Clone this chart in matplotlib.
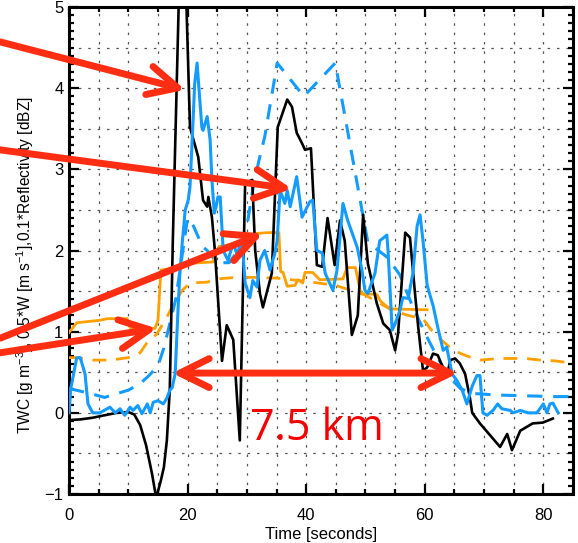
import matplotlib
matplotlib.use("Agg")
import matplotlib.pyplot as plt
from matplotlib.patches import FancyArrowPatch
from matplotlib.ticker import MultipleLocator

plt.rcParams['font.family'] = ['Liberation Sans', 'DejaVu Sans']
plt.rcParams['mathtext.default'] = 'regular'

# ---- flight-leg time series (time in seconds) ----
twc_t = [0, 2, 4, 6, 8, 10, 11, 12, 13, 14, 14.7, 15.5, 16, 16.5, 17, 17.5,
         19.1, 20.4, 21.8, 22.6, 23.3, 23.5, 24.1, 24.6, 25.8, 26.6, 27.7,
         28.8, 29.7, 30.9, 31.4, 32.2, 32.7, 34.2, 35.2, 36.8, 37.6, 38.4,
         39.3, 39.8, 40.8, 41.8, 42.7, 43.6, 44.8, 45.7, 46.5, 47.7, 48.7,
         49.6, 50.4, 51.9, 53.0, 54.1, 55.0, 55.5, 56.7, 57.5, 58.3, 58.9,
         59.7, 60.4, 61.4, 62.2, 63.7, 64.3, 65.1, 65.9, 66.8, 67.6, 68.0,
         69.3, 72.7, 73.9, 74.7, 76.1, 78.2, 79.9, 81.6]
twc_v = [-0.09, -0.08, -0.06, -0.03, 0.0, 0.01, -0.02, -0.15, -0.4, -0.75,
         -1.05, -0.83, -0.67, -0.34, 0.3, 2.1,
         6.8, 3.52, 3.15, 2.62, 2.54, 2.66, 2.41, 2.0, 0.64, 1.08, 0.9,
         -0.34, 2.83, 2.87, 2.0, 1.47, 1.3, 1.72, 3.52, 3.86, 3.77, 3.45,
         3.32, 3.24, 3.26, 1.82, 1.8, 2.4, 1.82, 2.37, 2.12, 0.96, 1.2,
         2.44, 1.84, 1.35, 1.1, 1.02, 0.77, 0.98, 2.22, 2.16, 1.51, 1.05,
         0.52, 0.56, 0.73, 0.71, 0.44, 0.65, 0.67, 0.61, 0.48, 0.19, 0.0,
         -0.13, -0.42, -0.26, -0.46, -0.22, -0.13, -0.12, -0.07]

w_t = [0, 0.3, 1.3, 1.9, 2.7, 3.2, 4.0, 5.2, 6.9, 7.8, 8.6, 9.4, 10.3, 10.8,
       11.6, 12.3, 13.2, 13.7, 14.2, 15.0, 15.9, 16.5, 17.0, 17.4, 17.9,
       18.4, 18.7, 19.1, 19.6, 20.1, 20.4, 20.7, 21.2, 21.6, 21.9, 22.4,
       22.6, 23.3, 23.8, 24.1, 24.5, 24.8, 25.1, 25.5, 26.0, 26.8, 27.7,
       28.3, 29.2, 29.7, 30.5, 31.0, 31.7, 32.2, 33.0, 33.9, 34.2, 34.7,
       35.1, 35.6, 36.4, 36.8, 37.3, 38.4, 39.3, 40.6, 41.1, 41.8, 42.7,
       43.2, 44.5, 45.2, 46.2, 47.0, 48.6, 49.4, 49.9, 50.4, 51.6, 52.4,
       53.6, 53.8, 54.5, 55.0, 55.8, 56.3, 57.2, 58.0, 58.7, 59.2, 59.7,
       60.4, 61.4, 62.2, 63.1, 63.7, 64.6, 65.4, 66.3, 67.1, 68.0, 68.8,
       69.3, 69.8, 70.5, 71.5, 72.3, 73.0, 74.4, 74.9, 76.1, 77.4, 78.9,
       80.0, 80.6, 81.1, 81.6, 82.5]
w_v = [0.0, 0.3, 0.68, 0.68, 0.48, 0.11, 0.0, 0.0, 0.07, 0.0, 0.05, -0.03,
       0.07, 0.03, 0.09, -0.01, 0.11, 0.0, 0.13, 0.15, 0.11, 0.18, 0.28,
       0.31, 0.48, 1.3, 1.72, 2.1, 2.5, 2.62, 2.78, 3.24, 4.06, 4.31, 4.01,
       3.52, 3.48, 3.65, 3.36, 2.87, 2.46, 2.54, 2.66, 2.66, 2.0, 1.88,
       2.09, 1.96, 2.12, 1.6, 1.42, 1.63, 1.55, 1.88, 2.0, 1.76, 1.84, 1.96,
       2.12, 2.74, 2.58, 2.74, 2.54, 2.91, 2.41, 2.6, 2.62, 2.0, 1.97,
       1.72, 1.51, 1.76, 2.58, 2.37, 2.04, 1.76, 1.51, 1.47, 1.72, 2.12,
       2.19, 2.0, 1.02, 1.1, 1.26, 1.42, 1.41, 1.72, 2.3, 2.44, 2.12,
       1.57, 1.32, 1.05, 0.77, 0.81, 0.48, 0.4, 0.28, 0.11, 0.33, 0.46,
       0.46, 0.0, -0.03, 0.03, 0.11, 0.05, 0.03, 0.0, 0.03, 0.0, 0.0,
       0.11, 0.0, 0.11, 0.12, 0.0]

dbz_t = [0, 3.5, 6, 10, 12, 13.5, 15, 16, 17, 18, 18.7, 20.0, 21.0, 22.5,
         23.3, 25, 27, 29, 30, 31, 32, 33, 34.4, 35.1, 39.6, 44.9, 50.4,
         53.6, 55.8, 58.0, 60.4, 62, 64, 66, 68, 72, 77, 82, 85]
dbz_v = [0.3, 0.24, 0.19, 0.28, 0.36, 0.46, 0.58, 0.8, 1.1, 1.4, 1.75, 2.4,
         2.3, 2.05, 2.0, 1.85, 1.85, 2.05, 2.3, 2.75, 3.1, 3.4, 4.0, 4.31,
         3.9, 4.31, 2.1, 1.92, 1.7, 1.3, 0.93, 0.7, 0.45, 0.3, 0.24, 0.22,
         0.21, 0.2, 0.2]

twc2_t = [0, 1.3, 5.2, 6.4, 9.8, 10.3, 14.5, 15.0, 15.5, 17.5, 19.2, 20.0,
          24.3, 25.3, 28.3, 29.0, 30.0, 33.4, 35.4, 35.7, 36.1, 36.8, 38.1,
          38.6, 39.4, 39.8, 41.1, 42.3, 46.2, 46.9, 48.3, 49.2, 51.9, 52.6,
          53.6, 54.5, 60.4]
twc2_v = [0.99, 1.11, 1.14, 1.16, 1.16, 1.05, 1.04, 1.14, 1.76, 1.78, 1.8,
          1.84, 1.86, 2.05, 2.09, 2.12, 2.2, 2.22, 2.22, 1.74, 1.73, 1.56,
          1.57, 1.64, 1.6, 1.73, 1.73, 1.64, 1.65, 1.79, 1.79, 1.47, 1.46,
          1.37, 1.31, 1.28, 1.27]

mod_t = [0, 1.2, 4, 7, 10, 12, 13.2, 14.8, 16.5, 17.5, 19.1, 20.4, 23.3, 25,
         28.3, 30.5, 35, 40, 45, 50, 54.6, 57.2, 59.7, 61, 62.6, 64.8, 67.1,
         69.3, 72.7, 77, 79.4, 82, 85]
mod_v = [0.68, 0.68, 0.65, 0.65, 0.68, 0.74, 0.87, 0.97, 1.18, 1.32, 1.51,
         1.6, 1.61, 1.65, 1.67, 1.67, 1.66, 1.62, 1.57, 1.45, 1.26, 1.2,
         1.16, 1.03, 0.91, 0.77, 0.7, 0.65, 0.67, 0.67, 0.65, 0.64, 0.61]

# annotation arrows: (start), (tip) in data units
arrow_starts = [(-11.6, 4.57), (-11.6, 3.24), (-11.6, 0.92), (-11.6, 0.74)]
arrow_tips = [(19.6, 3.98), (37.6, 2.76), (32.7, 2.21), (14.8, 1.04)]
span_ends = (17.4, 65.6)
span_level = 0.49
span_label = "7.5 km"

BLUE = "#139bff"
ORANGE = "#ffa000"
RED = "#ff2e12"
HEAD = '->,head_length=1.05,head_width=0.52'

fig = plt.figure(figsize=(5.78, 5.43), dpi=100)
ax = fig.add_axes([0.1194, 0.0902, 0.8720, 0.8969])

ax.plot(mod_t, mod_v, color=ORANGE, lw=2.0, dashes=(5, 3.5), zorder=3)
ax.plot(dbz_t, dbz_v, color=BLUE, lw=2.2, dashes=(5, 3.5), zorder=3)
ax.plot(twc2_t, twc2_v, color=ORANGE, lw=2.0, zorder=4)
ax.plot(twc_t, twc_v, color="black", lw=1.9, zorder=5)
ax.plot(w_t, w_v, color=BLUE, lw=2.2, zorder=6)

ax.set_xlim(0, 85)
ax.set_ylim(-1, 5)

ax.xaxis.set_major_locator(MultipleLocator(20))
ax.xaxis.set_minor_locator(MultipleLocator(5))
ax.yaxis.set_major_locator(MultipleLocator(1))
ax.yaxis.set_minor_locator(MultipleLocator(0.1))

ax.tick_params(which='both', direction='in', top=True, right=True,
               width=1.6, colors='black')
ax.tick_params(which='major', length=7)
ax.tick_params(which='minor', length=3.5)
ax.tick_params(axis='x', which='major', pad=10, labelsize=12)
ax.tick_params(axis='y', which='major', pad=4, labelsize=12)

for s in ax.spines.values():
    s.set_linewidth(2.2)

# dotted grid every 5 s and every 0.5 units
for xv in range(5, 85, 5):
    ax.axvline(xv, color="#555555", lw=0.9, dashes=(2, 5.5), zorder=1)
for k in range(1, 12):
    ax.axhline(-1 + 0.5 * k, color="#555555", lw=0.9, dashes=(2, 5.5), zorder=1)

ax.set_xlabel("Time [seconds]", fontsize=12, labelpad=3)
ax.set_ylabel("TWC [g m$^{-3}$], 0.5*W [m s$^{-1}$],0.1*Reflectivity [dBZ]",
              fontsize=11.2)
ax.yaxis.set_label_coords(-0.066, 0.47)

for a, b in zip(arrow_starts, arrow_tips):
    arr = FancyArrowPatch(a, b, arrowstyle=HEAD,
                          mutation_scale=20, lw=5, color=RED, shrinkA=0,
                          shrinkB=0, capstyle='round', joinstyle='round',
                          transform=ax.transData, clip_on=False, zorder=8)
    ax.add_patch(arr)

span = FancyArrowPatch((span_ends[0], span_level), (span_ends[1], span_level),
                       arrowstyle='<' + HEAD,
                       mutation_scale=20, lw=5, color=RED, shrinkA=0, shrinkB=0,
                       capstyle='round', joinstyle='round',
                       transform=ax.transData, zorder=8)
ax.add_patch(span)

ax.text(30.5, -0.34, span_label, color="#f50000", fontsize=31,
        family=["Open Sans", "DejaVu Sans"], ha='left', va='baseline', zorder=9)

fig.savefig("out.png", dpi=100)
